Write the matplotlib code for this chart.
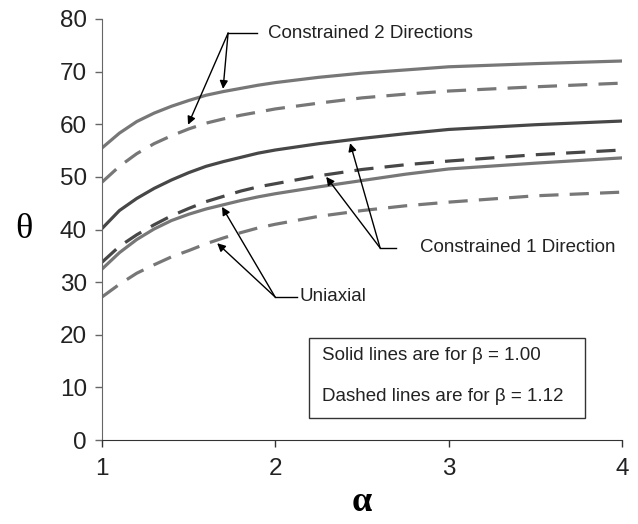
import matplotlib
matplotlib.use("Agg")
import matplotlib.pyplot as plt
from matplotlib.patches import Rectangle

plt.rcParams['font.family'] = ['Liberation Sans', 'DejaVu Sans']

# alpha values where curves were read
alpha = [1.0, 1.1, 1.2, 1.3, 1.4, 1.5, 1.6, 1.7, 1.8, 1.9, 2.0, 2.25, 2.5, 2.75, 3.0, 3.5, 4.0]

# constrained 2 directions
c2_solid = [55.5, 58.3, 60.5, 62.1, 63.4, 64.5, 65.5, 66.2, 66.8, 67.4, 67.9, 68.9, 69.7, 70.3, 70.9, 71.5, 72.0]
c2_dashed = [49.0, 52.0, 54.4, 56.3, 57.8, 59.1, 60.2, 61.0, 61.7, 62.3, 62.9, 64.0, 65.0, 65.7, 66.3, 67.1, 67.8]
# constrained 1 direction
c1_solid = [40.2, 43.6, 45.9, 47.8, 49.4, 50.8, 52.0, 52.9, 53.7, 54.5, 55.1, 56.3, 57.3, 58.2, 59.0, 59.9, 60.6]
c1_dashed = [33.8, 36.8, 39.0, 40.9, 42.6, 44.0, 45.3, 46.3, 47.3, 48.1, 48.7, 50.2, 51.4, 52.3, 53.0, 54.2, 55.1]
# uniaxial
uni_solid = [32.5, 35.6, 38.1, 40.1, 41.7, 42.9, 43.9, 44.7, 45.5, 46.2, 46.8, 48.1, 49.3, 50.5, 51.5, 52.6, 53.6]
uni_dashed = [27.2, 29.6, 31.7, 33.3, 34.8, 36.0, 37.3, 38.4, 39.4, 40.3, 41.0, 42.5, 43.6, 44.5, 45.2, 46.4, 47.1]

light = '#777777'
dark = '#474747'
lw = 2.3
dash = (0, (6, 3.5))

fig = plt.figure(figsize=(6.38, 5.24), dpi=100)
ax = fig.add_axes([0.16, 0.16, 0.815, 0.804])

ax.plot(alpha, c2_solid, color=light, lw=lw)
ax.plot(alpha, c2_dashed, color=light, lw=lw, linestyle=dash)
ax.plot(alpha, c1_solid, color=dark, lw=lw)
ax.plot(alpha, c1_dashed, color=dark, lw=lw, linestyle=dash)
ax.plot(alpha, uni_solid, color=light, lw=lw)
ax.plot(alpha, uni_dashed, color=light, lw=lw, linestyle=dash)

ax.set_xlim(1, 4)
ax.set_ylim(0, 80)
ax.set_xticks([1, 2, 3, 4])
ax.set_yticks(range(0, 81, 10))
for s in ['top', 'right']:
    ax.spines[s].set_visible(False)
ax.spines['left'].set_color('#666666')
ax.spines['bottom'].set_color('#333333')
ax.tick_params(axis='y', direction='out', length=5, width=1, colors='#666666',
               labelcolor='#222222', labelsize=17.5, pad=6)
ax.tick_params(axis='x', direction='out', length=5, width=1, colors='#333333',
               labelcolor='#222222', labelsize=17.5, pad=8)

ax.set_xlabel(u'\u03b1', fontsize=26, fontweight='bold', family='Liberation Serif', va='center')
ax.xaxis.set_label_coords(0.5, -0.149)
ax.set_ylabel(u'\u03b8', fontsize=26, family='Liberation Serif', rotation=0, va='center', ha='center')
ax.yaxis.set_label_coords(-0.15, 0.5)

arrow = dict(arrowstyle='-|>', color='black', lw=1, mutation_scale=12, shrinkA=0, shrinkB=0)
fs = 13.5

# callouts: leader from junction, short horizontal line, then label
ax.annotate('', xy=(1.496, 59.9), xytext=(1.727, 77.3), arrowprops=arrow)
ax.annotate('', xy=(1.698, 66.7), xytext=(1.727, 77.3), arrowprops=arrow)
ax.plot([1.727, 1.894], [77.3, 77.3], color='black', lw=1)
ax.text(1.958, 77.3, 'Constrained 2 Directions', fontsize=fs, va='center', color='#222222')

ax.annotate('', xy=(2.431, 56.4), xytext=(2.604, 36.5), arrowprops=arrow)
ax.annotate('', xy=(2.293, 50.0), xytext=(2.604, 36.5), arrowprops=arrow)
ax.plot([2.604, 2.696], [36.5, 36.5], color='black', lw=1)
ax.text(2.835, 36.5, 'Constrained 1 Direction', fontsize=fs, va='center', color='#222222')

ax.annotate('', xy=(1.692, 44.3), xytext=(1.998, 27.2), arrowprops=arrow)
ax.annotate('', xy=(1.664, 37.4), xytext=(1.998, 27.2), arrowprops=arrow)
ax.plot([1.998, 2.125], [27.2, 27.2], color='black', lw=1)
ax.text(2.14, 27.2, 'Uniaxial', fontsize=fs, va='center', color='#222222')

ax.add_patch(Rectangle((2.194, 4.2), 1.593, 15.2, fill=False, edgecolor='#333333', lw=1))
ax.text(2.269, 16.0, u'Solid lines are for \u03b2 = 1.00', fontsize=fs, va='center', color='#222222')
ax.text(2.269, 8.2, u'Dashed lines are for \u03b2 = 1.12', fontsize=fs, va='center', color='#222222')

fig.savefig('out.png', dpi=100)
